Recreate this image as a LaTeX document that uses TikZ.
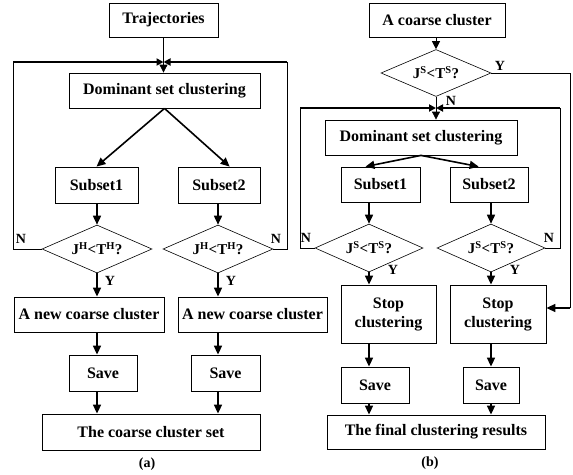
\documentclass[tikz,border=0pt]{standalone}
\usepackage{fontspec}
\setmainfont{Liberation Serif}
\usetikzlibrary{shapes.geometric,arrows.meta}
\tikzset{
  box/.style={draw, line width=0.8pt, inner sep=2pt, align=center, font=\bfseries\fontsize{16}{19}\selectfont},
  decide/.style={draw, diamond, shape aspect=2.3, inner sep=0pt, line width=0.6pt, minimum width=110pt, minimum height=48pt, font=\bfseries\fontsize{15}{17}\selectfont},
  flow/.style={line width=1.6pt, -{Triangle[length=9pt,width=8pt]}},
  feed/.style={line width=0.8pt, -{Triangle[length=8pt,width=8pt]}},
  bar/.style={line width=2pt, -{Triangle[length=7pt,width=7pt]}},
  yn/.style={font=\bfseries\fontsize{14}{16}\selectfont, inner sep=0pt},
}
\begin{document}
\begin{tikzpicture}[x=1pt,y=-1pt]
\useasboundingbox (0,0) rectangle (573,474);
% (a)
\node[box, minimum width=109pt, minimum height=34pt] (traj) at (163.5,20) {Trajectories};
\node[box, minimum width=191pt, minimum height=35pt] (doma) at (164.5,90.5) {Dominant set clustering};
\node[box, minimum width=83pt, minimum height=36pt] (sub1a) at (96.5,185) {Subset1};
\node[box, minimum width=82pt, minimum height=36pt] (sub2a) at (219,185) {Subset2};
\node[decide] (dia1a) at (97,249) {J\textsuperscript{H}<T\textsuperscript{H}?};
\node[decide] (dia2a) at (218,249) {J\textsuperscript{H}<T\textsuperscript{H}?};
\node[box, minimum width=150pt, minimum height=35pt] (new1a) at (89,314.5) {A new coarse cluster};
\node[box, minimum width=149pt, minimum height=35pt] (new2a) at (252.5,314.5) {A new coarse cluster};
\node[box, minimum width=68pt, minimum height=36pt] (save1a) at (103,373) {Save};
\node[box, minimum width=69pt, minimum height=36pt] (save2a) at (225.5,373) {Save};
\node[box, minimum width=218pt, minimum height=36pt] (seta) at (151,432) {The coarse cluster set};
\node[yn] (capa) at (147,464) {(a)};
\node[yn] (n1a) at (21,239) {N};
\node[yn] (n2a) at (276,239) {N};
\node[yn] (y1a) at (110,281) {Y};
\node[yn] (y2a) at (231,281) {Y};
\coordinate (la) at (13,62);
\coordinate (ra) at (287,62);
\coordinate (ja) at (163.5,62);
\draw[feed] (traj) -- (doma.north -| traj);
\draw[line width=0.8pt] (dia1a.west) -| (la);
\draw[line width=0.8pt] (dia2a.east) -| (ra);
\draw[bar] (la) -- (ja);
\draw[bar] (ra) -- (ja);
\draw[flow] (doma.south) -- (sub1a.north);
\draw[flow] (doma.south) -- (sub2a.60);
\draw[flow] (sub1a.south -| dia1a) -- (dia1a.north);
\draw[flow] (sub2a.south -| dia2a) -- (dia2a.north);
\draw[flow] (dia1a.south) -- (dia1a.south |- new1a.north);
\draw[flow] (dia2a.south) -- (dia2a.south |- new2a.north);
\draw[flow] (new1a.south -| dia1a) -- (save1a.north -| dia1a);
\draw[flow] (new2a.south -| dia2a) -- (save2a.north -| dia2a);
\draw[flow] (save1a.south -| dia1a) -- (seta.north -| dia1a);
\draw[flow] (save2a.south -| dia2a) -- (seta.north -| dia2a);
% (b)
\node[box, minimum width=136pt, minimum height=34pt] (coarse) at (437,20) {A coarse cluster};
\node[decide, minimum height=47pt] (dia0) at (436,73) {J\textsuperscript{S}<T\textsuperscript{S}?};
\node[box, minimum width=192pt, minimum height=35pt] (domb) at (421,137.5) {Dominant set clustering};
\node[box, minimum width=79pt, minimum height=35pt] (sub1b) at (380.5,184.5) {Subset1};
\node[box, minimum width=78pt, minimum height=35pt] (sub2b) at (489,184.5) {Subset2};
\node[decide, minimum width=108pt] (dia1b) at (369,248) {J\textsuperscript{S}<T\textsuperscript{S}?};
\node[decide, minimum width=108pt] (dia2b) at (491,248) {J\textsuperscript{S}<T\textsuperscript{S}?};
\node[box, minimum width=95pt, minimum height=58pt] (stop1) at (388.5,314) {Stop\\clustering};
\node[box, minimum width=96pt, minimum height=58pt] (stop2) at (498,314) {Stop\\clustering};
\node[box, minimum width=68pt, minimum height=36pt] (save1b) at (375,385) {Save};
\node[box, minimum width=56pt, minimum height=36pt] (save2b) at (491,385) {Save};
\node[box, minimum width=218pt, minimum height=34pt] (res) at (436,432) {The final clustering results};
\node[yn] (capb) at (430,463) {(b)};
\node[yn] (y0b) at (500,66) {Y};
\node[yn] (n0b) at (451,101) {N};
\node[yn] (n1b) at (306,238) {N};
\node[yn] (n2b) at (549,238) {N};
\node[yn] (y1b) at (393,270) {Y};
\node[yn] (y2b) at (515,270) {Y};
\coordinate (lb) at (300,108);
\coordinate (rb) at (560,108);
\coordinate (jb) at (436,108);
\coordinate (yb) at (570,308);
\draw[feed] (coarse.south -| dia0) -- (dia0.north);
\draw[feed] (dia0.south) -- (dia0.south |- domb.north);
\draw[line width=0.8pt] (dia0.east) -| (yb);
\draw[flow] (yb) -- (yb -| stop2.east);
\draw[line width=0.8pt] (dia1b.west) -| (lb);
\draw[line width=0.8pt] (dia2b.east) -| (rb);
\draw[bar] (lb) -- (jb);
\draw[bar] (rb) -- (jb);
\draw[flow] (domb.south) -- (sub1b.130);
\draw[flow] (domb.south) -- (sub2b.120);
\draw[flow] (sub1b.south -| dia1b) -- (dia1b.north);
\draw[flow] (sub2b.south -| dia2b) -- (dia2b.north);
\draw[flow] (dia1b.south) -- (dia1b.south |- stop1.north);
\draw[flow] (dia2b.south) -- (dia2b.south |- stop2.north);
\draw[flow] (stop1.south -| dia1b) -- (save1b.north -| dia1b);
\draw[flow] (stop2.south -| dia2b) -- (save2b.north -| dia2b);
\draw[flow] (save1b.south -| dia1b) -- (res.north -| dia1b);
\draw[flow] (save2b.south -| dia2b) -- (res.north -| dia2b);
\end{tikzpicture}
\end{document}
